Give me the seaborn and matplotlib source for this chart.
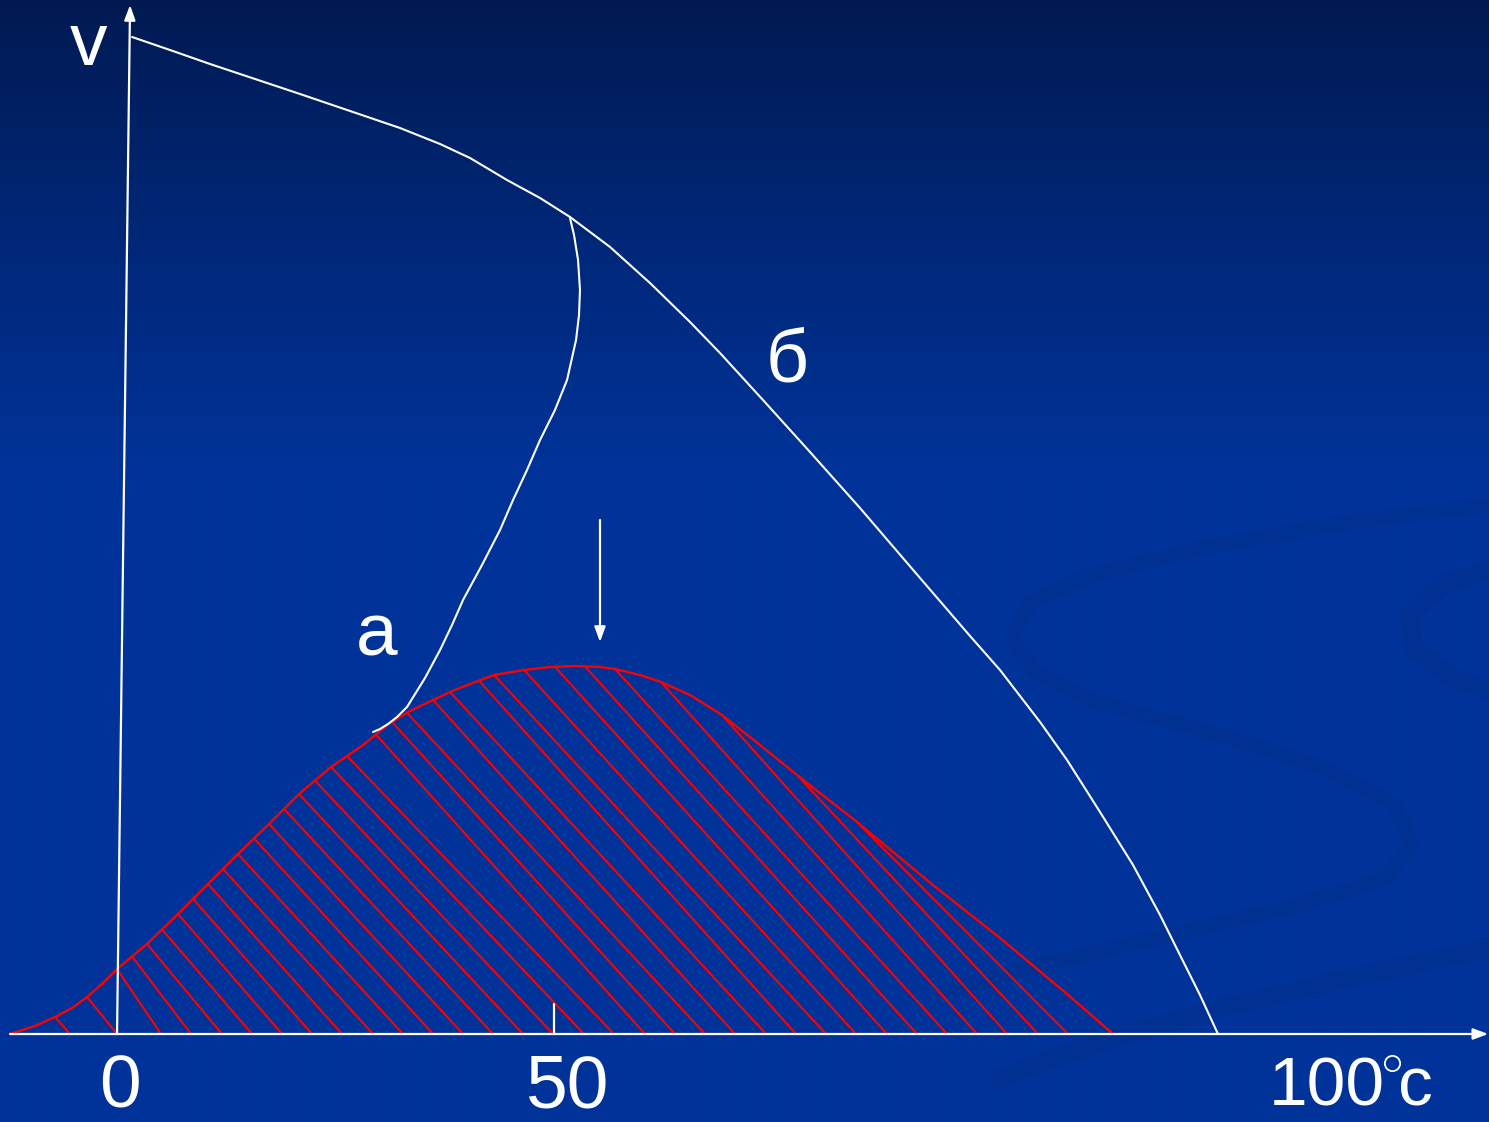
import numpy as np
import pandas as pd
import matplotlib
matplotlib.use("Agg")
import matplotlib.pyplot as plt
import seaborn as sns
from matplotlib.collections import LineCollection

# ---------------- data (temperature t, value v) ----------------
# distribution curve (red, hatched)
dist_t = [-12.24, -9.38, -7.09, -5.15, -3.43, -1.72, 0.0, 3.43, 6.86, 10.41, 13.84,
          17.39, 20.82, 24.49, 28.15, 31.24, 33.52, 36.16, 38.10, 40.39, 43.14,
          46.57, 49.54, 52.40, 55.26, 56.98, 59.84, 62.24, 65.56, 69.22, 73.57,
          77.80, 84.67, 93.36, 101.03, 108.70, 113.96]
dist_v = [0.0, 0.8, 1.7, 2.6, 3.7, 5.0, 6.5, 9.0, 11.9, 15.0, 18.0,
          21.0, 24.0, 26.7, 28.9, 31.1, 32.3, 33.4, 34.2, 35.0, 35.9,
          36.4, 36.7, 36.8, 36.7, 36.5, 35.9, 35.2, 33.9, 31.9, 28.9,
          25.9, 21.2, 14.9, 9.6, 4.0, 0.0]

# curve "б"
b_t = [1.72, 6.06, 10.64, 15.79, 20.94, 26.66, 32.38, 36.96, 40.39, 44.62,
       48.40, 51.83, 56.41, 60.98, 65.56, 68.99, 73.91, 79.29, 85.01, 91.88,
       97.60, 101.03, 105.61, 108.70, 112.47, 116.25, 119.34, 121.62, 123.91, 125.97]
b_v = [99.7, 98.4, 97.0, 95.5, 94.0, 92.3, 90.6, 89.0, 87.6, 85.4,
       83.6, 81.7, 78.7, 75.1, 71.2, 68.1, 63.4, 58.2, 52.6, 45.6,
       39.8, 36.4, 31.2, 27.4, 22.2, 16.9, 11.9, 7.9, 3.9, 0.0]

# curve "а"
a_t = [51.83, 52.29, 52.75, 52.97, 52.86, 52.52, 51.49, 50.11, 48.40, 46.91,
       45.31, 43.82, 41.76, 39.59, 38.33, 36.96, 35.24, 33.18, 32.04, 31.01,
       30.09, 29.29]
a_v = [81.6, 79.9, 77.4, 74.4, 71.9, 69.4, 65.4, 62.4, 59.4, 56.4,
       53.4, 50.4, 46.9, 43.4, 40.9, 38.4, 35.6, 32.7, 31.7, 31.0,
       30.5, 30.2]

# hatch lines: top point (on the curve) and bottom point (on the axis)
hatch_top_t = [-7.09, -3.43, 0.0, 1.72, 3.43, 5.15, 6.98, 8.70, 10.41, 12.13, 13.84,
               15.68, 17.39, 19.11, 20.82, 22.65, 24.49, 26.32, 29.63, 31.46, 33.18,
               36.16, 38.10, 41.42, 43.14, 46.57, 50.11, 53.55, 56.98, 62.24, 69.22,
               77.80, 84.67]
hatch_bot_t = [-5.38, 0.0, 5.03, 8.47, 12.01, 15.45, 18.88, 22.31, 25.74, 29.29, 32.72,
               36.16, 39.59, 43.02, 46.45, 49.89, 53.43, 56.86, 60.41, 63.84, 67.28,
               70.71, 74.26, 77.69, 81.12, 84.55, 88.10, 91.53, 94.97, 98.40, 101.83,
               105.38, 108.81]

tick_labels = ["0", "50", "100", "c"]

# ---------------- figure ----------------
sns.set_theme(style="white")
plt.rcParams["font.family"] = ["Liberation Sans", "DejaVu Sans"]

W, H = 1489, 1122
fig = plt.figure(figsize=(W / 100, H / 100), dpi=100)

# background (pixel coordinates)
bg = fig.add_axes([0, 0, 1, 1])
bg.set_xlim(0, W)
bg.set_ylim(H, 0)
bg.axis("off")
yy = np.arange(H)
f = np.clip(yy / 470.0, 0, 1) ** 0.9
top = np.array([1, 25, 80]) / 255.0
bot = np.array([0, 51, 153]) / 255.0
img = top[None, :] + (bot - top)[None, :] * f[:, None]
img = np.repeat(img[:, None, :], 2, axis=1)
bg.imshow(img, extent=[0, W, H, 0], aspect="auto", interpolation="bilinear", zorder=0)

swirl = dict(color="#003192", solid_capstyle="round", solid_joinstyle="round", zorder=1)
sA = np.array([(1489, 505), (1350, 522), (1200, 548), (1090, 575), (1030, 603), (1012, 638),
               (1035, 672), (1100, 703), (1220, 735), (1330, 770), (1395, 805), (1412, 845),
               (1385, 878), (1300, 905), (1170, 935), (1040, 965), (950, 990)])
bg.plot(sA[:, 0], sA[:, 1], lw=11, **swirl)
sB = np.array([(1489, 570), (1440, 586), (1410, 615), (1414, 648), (1450, 676), (1489, 692)])
bg.plot(sB[:, 0], sB[:, 1], lw=14, **swirl)
sC = np.array([(1489, 948), (1350, 978), (1220, 1008), (1100, 1042), (1000, 1078)])
bg.plot(sC[:, 0], sC[:, 1], lw=14, **swirl)

# data axes
ax = fig.add_axes([0, 0, 1, 1], zorder=2)
ax.patch.set_alpha(0)
ax.set_xlim(-13.39, 156.98)
ax.set_ylim(-8.8, 103.4)
ax.axis("off")

white = "#ffffff"
red = "#ff0000"

# hatch lines
top_v = np.interp(hatch_top_t, dist_t, dist_v)
segs = [[(bt, 0.0), (tt, tv)] for bt, tt, tv in zip(hatch_bot_t, hatch_top_t, top_v)]
ax.add_collection(LineCollection(segs, colors=red, linewidths=1.5, zorder=3))

# curves
sns.lineplot(x=dist_t, y=dist_v, sort=False, estimator=None, color=red, lw=1.7, ax=ax, zorder=4)
sns.lineplot(x=b_t, y=b_v, sort=False, estimator=None, color=white, lw=1.5, ax=ax, zorder=5)
sns.lineplot(x=a_t, y=a_v, sort=False, estimator=None, color=white, lw=1.5, ax=ax, zorder=5)

# axes arrows
arrow = dict(arrowstyle="-|>,head_length=0.9,head_width=0.33", mutation_scale=10,
             color=white, lw=1.6, shrinkA=0, shrinkB=0)
ax.annotate("", xy=(156.9, 0.0), xytext=(-12.24, 0.0), arrowprops=arrow, zorder=6)
ax.annotate("", xy=(1.49, 102.9), xytext=(0.0, 0.0), arrowprops=arrow, zorder=6)
ax.annotate("", xy=(55.26, 39.2), xytext=(55.26, 51.4), arrowprops=arrow, zorder=6)
# tick at 50
ax.plot([50, 50], [0, 3.0], color=white, lw=1.6, zorder=6)

fs = 54
ax.text(0.34, -7.3, tick_labels[0], color=white, fontsize=fs, ha="center", va="baseline")
ax.text(51.6, -7.3, tick_labels[1], color=white, fontsize=fs, ha="center", va="baseline")
ax.text(131.8, -7.2, tick_labels[2], color=white, fontsize=50, ha="left", va="baseline")
ax.text(146.6, -7.2, tick_labels[3], color=white, fontsize=50, ha="left", va="baseline")
ax.plot([145.9], [-2.9], marker="o", ms=11, mfc="none", mec=white, mew=1.3, zorder=6)
ax.text(-3.32, 96.9, "v", color=white, fontsize=fs, ha="center", va="baseline")
ax.text(29.75, 37.9, "а", color=white, fontsize=fs, ha="center", va="baseline")
ax.text(76.66, 65.2, "б", color=white, fontsize=fs, ha="center", va="baseline")

fig.savefig("out.png", dpi=100)
